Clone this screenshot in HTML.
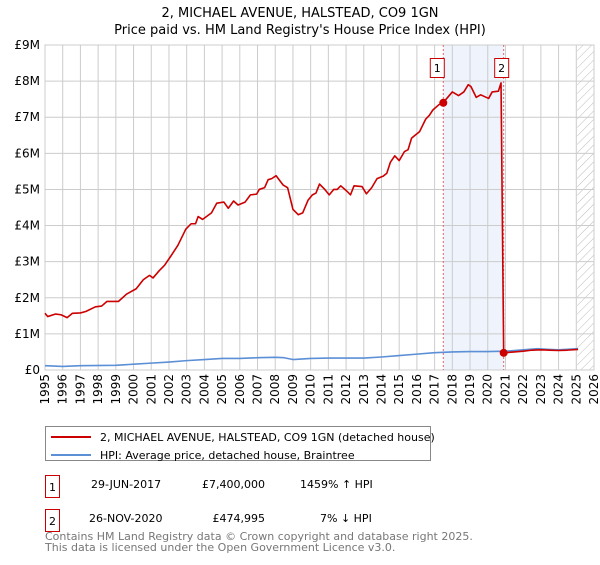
<!DOCTYPE html>
<html><head><meta charset="utf-8"><style>
body{margin:0;background:#fff;font-family:"Liberation Sans","DejaVu Sans",sans-serif;}
svg text{font-family:"DejaVu Sans","Liberation Sans",sans-serif;}
</style></head><body>
<svg id="c" width="600" height="560">
<defs><pattern id="hatch" width="6" height="6" patternUnits="userSpaceOnUse" patternTransform="rotate(45)"><line x1="0" y1="0" x2="0" y2="6" stroke="#bbb" stroke-width="1"/></pattern></defs>
<text x="300" y="17" text-anchor="middle" font-size="13">2, MICHAEL AVENUE, HALSTEAD, CO9 1GN</text>
<text x="300" y="34" text-anchor="middle" font-size="13">Price paid vs. HM Land Registry's House Price Index (HPI)</text>
<g id="plot"></g>
<g>
<rect x="45.5" y="426.5" width="385" height="34" fill="#fff" stroke="#888"/>
<line x1="51" y1="437" x2="91" y2="437" stroke="#cc0000" stroke-width="2"/>
<text x="100" y="441" font-size="11">2, MICHAEL AVENUE, HALSTEAD, CO9 1GN (detached house)</text>
<line x1="51" y1="455" x2="91" y2="455" stroke="#5b8fd6" stroke-width="2"/>
<text x="100" y="459" font-size="11">HPI: Average price, detached house, Braintree</text>
</g>
<g font-size="11">
<rect x="45.5" y="475.5" width="14" height="22" fill="#fff" stroke="#cc0000"/><text x="52.5" y="491" text-anchor="middle">1</text>
<text x="91" y="488">29-JUN-2017</text><text x="265" y="488" text-anchor="end">£7,400,000</text><text x="300" y="488">1459% ↑ HPI</text>
<rect x="45.5" y="509.5" width="14" height="22" fill="#fff" stroke="#cc0000"/><text x="52.5" y="525" text-anchor="middle">2</text>
<text x="89" y="522">26-NOV-2020</text><text x="265" y="522" text-anchor="end">£474,995</text><text x="320" y="522">7% ↓ HPI</text>
</g>
<text x="45" y="540" font-size="11" fill="#777">Contains HM Land Registry data © Crown copyright and database right 2025.</text>
<text x="45" y="551" font-size="11" fill="#777">This data is licensed under the Open Government Licence v3.0.</text>
</svg>
<script>
const yTicks=[0,1,2,3,4,5,6,7,8,9];
const yTickLabels=["£0","£1M","£2M","£3M","£4M","£5M","£6M","£7M","£8M","£9M"];
const years=[1995,1996,1997,1998,1999,2000,2001,2002,2003,2004,2005,2006,2007,2008,2009,2010,2011,2012,2013,2014,2015,2016,2017,2018,2019,2020,2021,2022,2023,2024,2025,2026];
const redX=[1995.0,1995.15,1995.6,1995.9,1996.25,1996.55,1997.0,1997.3,1997.85,1998.2,1998.5,1999.15,1999.6,2000.15,2000.55,2000.9,2001.1,2001.45,2001.75,2002.1,2002.5,2002.95,2003.25,2003.5,2003.65,2003.9,2004.4,2004.7,2005.1,2005.35,2005.65,2005.9,2006.3,2006.6,2006.95,2007.1,2007.4,2007.6,2007.8,2008.05,2008.45,2008.7,2009.0,2009.3,2009.55,2009.85,2010.1,2010.3,2010.5,2010.8,2011.05,2011.3,2011.5,2011.7,2012.05,2012.25,2012.45,2012.9,2013.15,2013.45,2013.75,2014.1,2014.3,2014.5,2014.75,2015.0,2015.3,2015.5,2015.7,2015.95,2016.15,2016.5,2016.7,2016.9,2017.25,2017.45,2017.65,2018.0,2018.35,2018.65,2018.9,2019.05,2019.35,2019.6,2020.05,2020.25,2020.6,2020.75,2020.9,2021.5,2022.0,2022.5,2023.0,2023.5,2024.0,2024.5,2025.1];
const redY=[1.57,1.48,1.55,1.53,1.45,1.57,1.58,1.62,1.75,1.77,1.9,1.9,2.1,2.25,2.5,2.62,2.55,2.75,2.9,3.15,3.45,3.9,4.05,4.05,4.25,4.17,4.35,4.62,4.65,4.48,4.68,4.57,4.65,4.85,4.87,5.0,5.05,5.27,5.3,5.38,5.12,5.05,4.45,4.3,4.35,4.7,4.85,4.9,5.15,5.0,4.85,5.0,5.0,5.1,4.95,4.85,5.1,5.08,4.88,5.05,5.3,5.37,5.45,5.75,5.93,5.8,6.05,6.1,6.42,6.52,6.6,6.95,7.05,7.2,7.35,7.4,7.5,7.7,7.6,7.7,7.9,7.85,7.55,7.62,7.52,7.7,7.72,7.95,0.475,0.5,0.52,0.55,0.56,0.55,0.54,0.55,0.57];
const blueX=[1995,1996,1997,1999,2000,2001,2002,2003,2004,2005,2006,2007,2008,2008.5,2009,2010,2011,2012,2013,2014,2015,2016,2017,2018,2019,2020,2021,2022,2022.8,2023.5,2024,2025.1];
const blueY=[0.12,0.1,0.12,0.13,0.16,0.19,0.22,0.26,0.29,0.32,0.32,0.34,0.35,0.34,0.29,0.32,0.33,0.33,0.33,0.36,0.4,0.44,0.48,0.5,0.51,0.51,0.52,0.56,0.59,0.57,0.56,0.59];
const sales=[[2017.49,7.4],[2020.9,0.475]];
const L=45,R=594,T=45,B=370,X0=1995,X1=2026,YM=9;
const sx=v=>L+(v-X0)/(X1-X0)*(R-L), sy=v=>B-v/YM*(B-T);
const NS="http://www.w3.org/2000/svg", g=document.getElementById('plot');
function mk(t,a,p){const e=document.createElementNS(NS,t);for(const k in a)e.setAttribute(k,a[k]);(p||g).appendChild(e);return e;}
let e=mk('rect',{x:sx(sales[0][0]),y:T,width:sx(sales[1][0])-sx(sales[0][0]),height:B-T,fill:'#eef3fc'});


e=mk('rect',{x:sx(2025.05),y:T,width:R-sx(2025.05),height:B-T,fill:'url(#hatch)'});


years.forEach(y=>{const l=mk('line',{x1:sx(y),x2:sx(y),y1:T,y2:B,stroke:'#ccc'});


const tg=mk('g',{transform:'translate('+(sx(y)+4)+','+(B+4)+') rotate(-90)'});
const t=mk('text',{x:0,y:0,'font-size':12,'text-anchor':'end'},tg);t.textContent=y;

});
yTicks.forEach((v,i)=>{const l=mk('line',{x1:L,x2:R,y1:sy(v),y2:sy(v),stroke:'#ccc'});


const t=mk('text',{x:L-5,y:sy(v)+4,'font-size':12,'text-anchor':'end'});t.textContent=yTickLabels[i];

});
e=mk('rect',{x:L,y:T,width:R-L,height:B-T,fill:'none',stroke:'#ccc'});


sales.forEach((s,i)=>{const l=mk('line',{x1:sx(s[0]),x2:sx(s[0]),y1:T,y2:B,stroke:'#e06666','stroke-dasharray':'2,2'});

});
function line(xs,ys,c,n){const p=mk('polyline',{points:xs.map((x,i)=>sx(x)+','+sy(ys[i])).join(' '),fill:'none',stroke:c,'stroke-width':1.6,'stroke-linejoin':'round'});

}
line(blueX,blueY,'#5b8fd6','hpi-line');
line(redX,redY,'#cc0000','property-price-line');
sales.forEach((s,i)=>{const c=mk('circle',{cx:sx(s[0]),cy:sy(s[1]),r:4,fill:'#cc0000'});


const bx=sx(s[0])-(i?2:6);
const r=mk('rect',{x:bx-7,y:58.5,width:14,height:19,fill:'#fff',stroke:'#cc0000'});


const t=mk('text',{x:bx,y:72,'font-size':11,'text-anchor':'middle'});t.textContent=String(i+1);

});
</script>
</body></html>
